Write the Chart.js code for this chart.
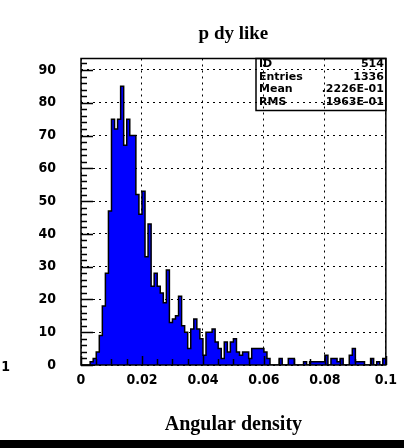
<!DOCTYPE html>
<html>
<head>
<meta charset="utf-8">
<script src="https://cdn.jsdelivr.net/npm/chart.js@4.4.1/dist/chart.umd.min.js"></script>
<style>
  html, body { margin: 0; padding: 0; background: #fff; }
  #wrap { width: 404px; height: 448px; }
</style>
</head>
<body>
<div id="wrap"><canvas id="histo" width="404" height="448"></canvas></div>
<script>
// 100 bins between 0 and 0.1
const xMin = 0;
const xMax = 0.1;
const binWidth = 0.001;
const yMax = 93.5;

const counts = [
  0, 0, 0, 1, 2, 4, 9, 18, 28, 47,
  75, 72, 75, 85, 67, 75, 70, 70, 52, 46,
  53, 33, 43, 24, 28, 24, 22, 19, 29, 13,
  14, 15, 21, 12, 10, 5, 11, 14, 11, 8,
  3, 10, 10, 11, 7, 5, 2, 7, 4, 7,
  8, 4, 3, 4, 4, 2, 5, 5, 5, 5,
  4, 2, 0, 0, 0, 2, 0, 0, 2, 2,
  0, 0, 0, 1, 0, 1, 1, 1, 1, 1,
  3, 0, 2, 2, 1, 2, 0, 0, 3, 5,
  1, 1, 1, 0, 0, 2, 0, 1, 0, 2
];

const xTickValues = [0, 0.02, 0.04, 0.06, 0.08, 0.1];
const xTickLabels = ['0', '0.02', '0.04', '0.06', '0.08', '0.1'];
const yTickValues = [0, 10, 20, 30, 40, 50, 60, 70, 80, 90];
const yTickLabels = ['0', '10', '20', '30', '40', '50', '60', '70', '80', '90'];
const statsNames = ['ID', 'Entries', 'Mean', 'RMS'];
const statsValues = ['514', '1336', '.2226E-01', '.1963E-01'];

// step points: low edge of every bin, then closing the last bin down to zero
const points = [{ x: xMin, y: 0 }];
counts.forEach((c, i) => points.push({ x: +(xMin + i * binWidth).toFixed(4), y: c }));
points.push({ x: xMax, y: counts[counts.length - 1] });
points.push({ x: xMax, y: 0 });

const labelFont = { family: "'Liberation Sans Narrow', 'DejaVu Sans Condensed', sans-serif", size: 14, weight: 'bold' };

const decor = {
  id: 'decor',
  beforeDraw(chart) {
    const ctx = chart.ctx;
    ctx.save();
    ctx.fillStyle = '#fff';
    ctx.fillRect(0, 0, chart.width, chart.height);
    ctx.fillStyle = '#000';
    ctx.fillRect(0, 440, chart.width, 8);
    ctx.restore();
  },
  afterDatasetsDraw(chart) {
    const ctx = chart.ctx;
    const a = chart.chartArea;
    const xs = chart.scales.x;
    const ys = chart.scales.y;
    ctx.save();
    ctx.strokeStyle = '#000';
    ctx.lineWidth = 1.5;

    // tick marks pointing into the frame
    ctx.beginPath();
    for (let k = 0; k <= 20; k++) {
      const px = Math.round(xs.getPixelForValue(xMin + k * 0.005)) + 0.5;
      const len = k % 4 === 0 ? 9 : 6;
      ctx.moveTo(px, a.bottom);
      ctx.lineTo(px, a.bottom - len);
    }
    for (let v = 0; v <= yMax; v += 2) {
      const py = Math.round(ys.getPixelForValue(v)) + 0.5;
      const len = v % 10 === 0 ? 12 : 6;
      ctx.moveTo(a.left, py);
      ctx.lineTo(a.left + len, py);
    }
    ctx.stroke();

    // frame
    ctx.strokeRect(a.left, a.top, a.right - a.left, a.bottom - a.top);

    // stats box
    const bx = 256, by = a.top, bw = a.right - 256, bh = 52;
    ctx.strokeRect(bx, by, bw, bh);
    ctx.fillStyle = '#000';
    ctx.font = "bold 11px 'DejaVu Sans', sans-serif";
    ctx.textBaseline = 'middle';
    statsNames.forEach((name, i) => {
      const ty = by + 6 + i * 12.5;
      ctx.textAlign = 'left';
      ctx.fillText(name, bx + 3, ty);
      ctx.textAlign = 'right';
      ctx.fillText(statsValues[i], a.right - 2, ty);
    });

    // clipped label fragment at the left edge
    ctx.font = "bold 14px 'Liberation Sans Narrow', 'DejaVu Sans Condensed', sans-serif";
    ctx.textAlign = 'right';
    ctx.fillText('0.1', 10, 367);
    ctx.restore();
  }
};

new Chart(document.getElementById('histo').getContext('2d'), {
  type: 'line',
  data: {
    datasets: [{
      data: points,
      stepped: 'before',
      fill: 'origin',
      backgroundColor: '#0000ff',
      borderColor: '#000',
      borderWidth: 1.5,
      pointRadius: 0,
      tension: 0
    }]
  },
  options: {
    responsive: false,
    animation: false,
    events: [],
    layout: { padding: { left: 0, right: 17, top: 0, bottom: 0 } },
    scales: {
      x: {
        type: 'linear',
        min: xMin,
        max: xMax,
        afterFit: (scale) => { scale.height = 83; },
        afterBuildTicks: (scale) => { scale.ticks = xTickValues.map(v => ({ value: v })); },
        ticks: {
          maxRotation: 0,
          autoSkip: false,
          padding: 7,
          color: '#000',
          font: labelFont,
          callback: (v, i) => xTickLabels[i]
        },
        grid: { color: '#000', lineWidth: 1, drawTicks: false },
        border: { display: false, dash: [2, 4] },
        title: {
          display: true,
          text: 'Angular density',
          color: '#000',
          font: { family: "'Liberation Serif', serif", size: 20, weight: 'bold' },
          padding: { top: 0, bottom: 11 }
        }
      },
      y: {
        min: 0,
        max: yMax,
        afterFit: (scale) => { scale.width = 81; },
        afterBuildTicks: (scale) => { scale.ticks = yTickValues.map(v => ({ value: v })); },
        ticks: {
          autoSkip: false,
          padding: 25,
          color: '#000',
          font: labelFont,
          callback: (v, i) => yTickLabels[i]
        },
        grid: { color: '#000', lineWidth: 1, drawTicks: false },
        border: { display: false, dash: [2, 4] }
      }
    },
    plugins: {
      legend: { display: false },
      tooltip: { enabled: false },
      title: {
        display: true,
        fullSize: false,
        text: 'p dy like',
        color: '#000',
        font: { family: "'Liberation Serif', serif", size: 19, weight: 'bold' },
        padding: { top: 23, bottom: 12.7 }
      }
    }
  },
  plugins: [decor]
});
</script>
</body>
</html>
